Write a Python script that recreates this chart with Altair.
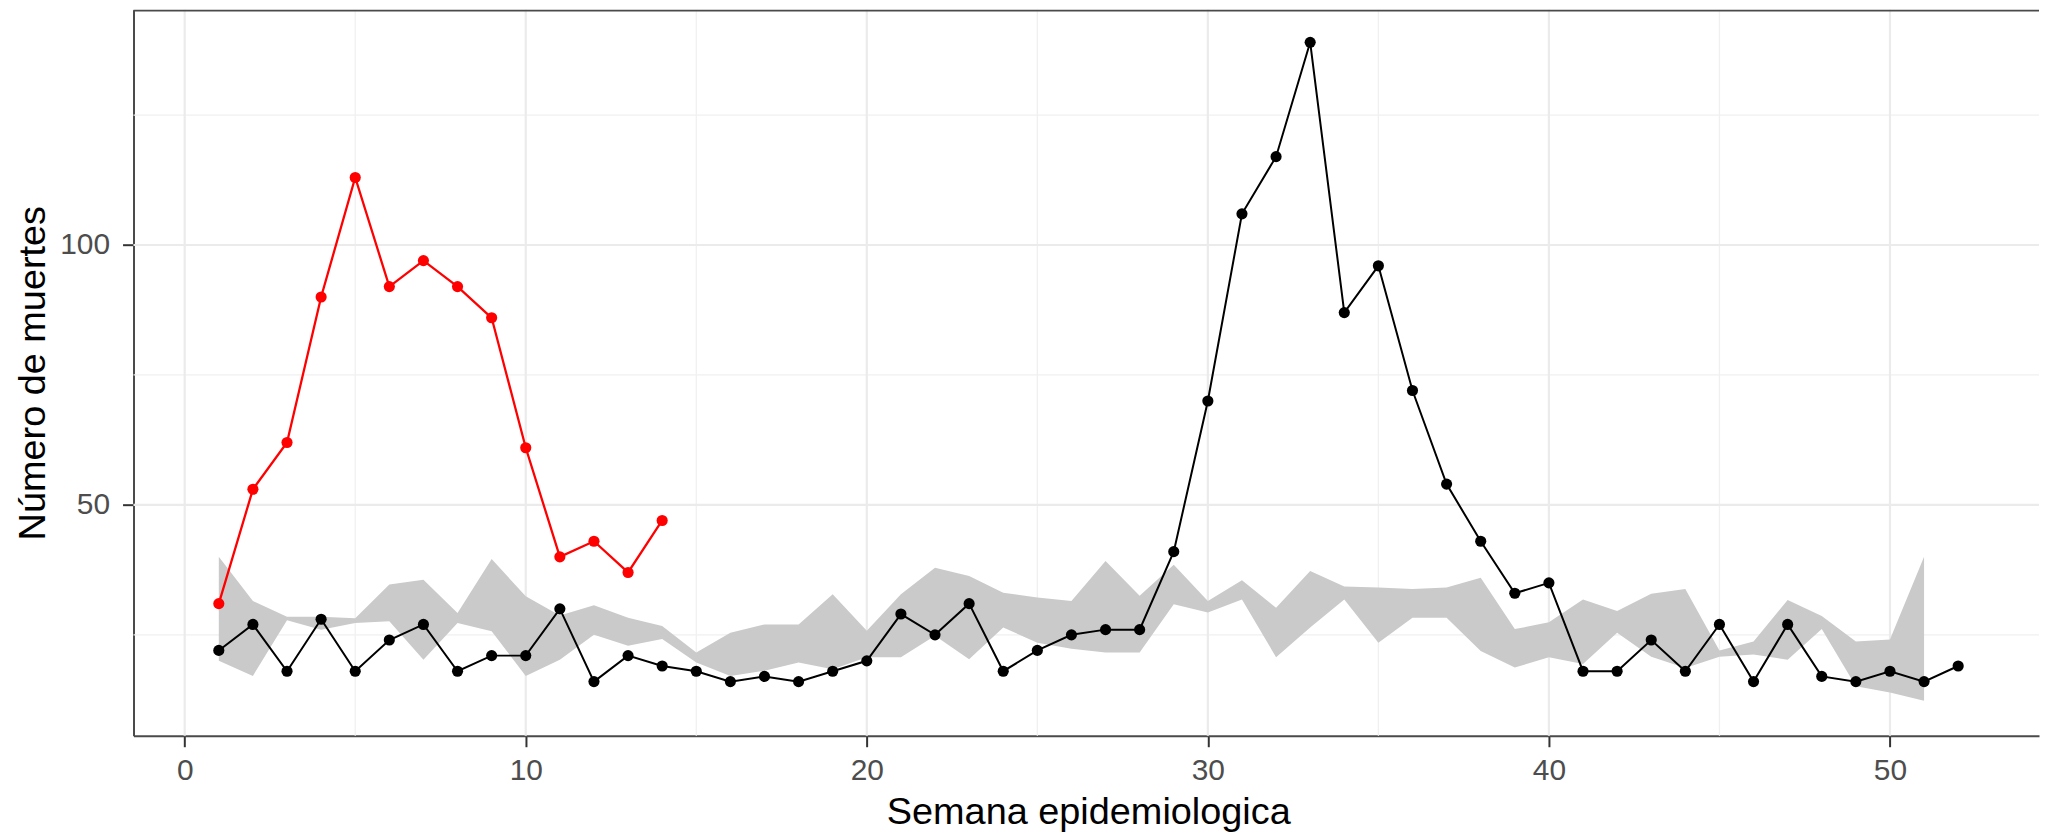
import altair as alt
import pandas as pd

# ---------------- data ----------------
weeks_prev = list(range(1, 53))
deaths_prev = [22, 27, 18, 28, 18, 24, 27, 18, 21, 21, 30, 16, 21, 19, 18, 16, 17, 16,
               18, 20, 29, 25, 31, 18, 22, 25, 26, 26, 41, 70, 106, 117, 139, 87, 96,
               72, 54, 43, 33, 35, 18, 18, 24, 18, 27, 16, 27, 17, 16, 18, 16, 19]

weeks_curr = list(range(1, 15))
deaths_curr = [31, 53, 62, 90, 113, 92, 97, 92, 86, 61, 40, 43, 37, 47]

band_weeks = list(range(1, 52))
band_low = [20.0, 17.1, 27.8, 26.0, 27.3, 27.6, 20.2, 27.3, 25.7, 17.1, 20.2, 25.0,
            22.9, 24.2, 19.7, 17.1, 18.1, 19.7, 18.4, 20.7, 20.7, 24.8, 20.3, 26.4,
            23.5, 22.3, 21.6, 21.6, 30.9, 29.3, 31.8, 20.7, 26.4, 31.8, 23.5, 28.3,
            28.3, 21.9, 18.7, 20.7, 19.4, 25.4, 20.8, 18.6, 20.8, 21.2, 20.2, 26.1,
            15.1, 13.9, 12.3]
band_high = [40.0, 31.5, 28.5, 28.5, 28.2, 34.7, 35.6, 29.2, 39.6, 32.4, 28.7, 30.7,
             28.3, 26.7, 21.6, 25.4, 27.0, 27.0, 32.8, 25.8, 32.8, 37.9, 36.3, 33.1,
             32.2, 31.5, 39.2, 32.5, 38.5, 31.5, 35.5, 30.2, 37.3, 34.3, 34.1, 33.8,
             34.1, 36.0, 26.1, 27.4, 31.8, 29.6, 32.9, 33.8, 22.0, 23.7, 31.7, 28.6,
             23.7, 24.1, 40.0]

x_ticks = [0, 10, 20, 30, 40, 50]
x_minor = [5, 15, 25, 35, 45]
y_ticks = [50, 100]
y_minor = [25, 75, 125]

x_title = "Semana epidemiologica"
y_title = "Número de muertes"

# ---------------- layout ----------------
W, H = 1913, 729
X_DOM = [-1.501, 54.37]
Y_DOM = [5.58, 145.29]
FONT = "Liberation Sans"
BORDER = "#4a4a4a"

prev = pd.DataFrame({"week": weeks_prev, "deaths": deaths_prev})
curr = pd.DataFrame({"week": weeks_curr, "deaths": deaths_curr})
band = pd.DataFrame({"week": band_weeks, "lo": band_low, "hi": band_high})

xs = alt.Scale(domain=X_DOM, nice=False, zero=False)
ys = alt.Scale(domain=Y_DOM, nice=False, zero=False)

x_axis = alt.Axis(
    values=x_ticks, grid=False, title=x_title,
    labelFont=FONT, labelFontSize=30, labelColor="#4d4d4d", labelPadding=9,
    tickSize=11, tickWidth=2, tickColor="#333333",
    domain=True, domainColor=BORDER, domainWidth=2,
    titleFont=FONT, titleFontSize=38, titleFontWeight="normal", titleColor="#000000",
    titleX=958.5, titleY=88, titleBaseline="alphabetic", titleAlign="center",
)
y_axis = alt.Axis(
    values=y_ticks, grid=False, title=y_title,
    labelFont=FONT, labelFontSize=30, labelColor="#4d4d4d", labelPadding=13,
    tickSize=11, tickWidth=2, tickColor="#333333",
    domain=True, domainColor=BORDER, domainWidth=2,
    titleFont=FONT, titleFontSize=38, titleFontWeight="normal", titleColor="#000000",
    titleX=-89, titleY=H / 2, titleBaseline="alphabetic", titleAlign="center",
    titleAngle=270,
)


def X(field):
    return alt.X(field, scale=xs, axis=x_axis, title=x_title)


def Y(field):
    return alt.Y(field, scale=ys, axis=y_axis, title=y_title)


grid_x_major = alt.Chart(pd.DataFrame({"week": x_ticks})).mark_rule(
    color="#ebebeb", strokeWidth=2.2
).encode(x=X("week:Q"))
grid_x_minor = alt.Chart(pd.DataFrame({"week": x_minor})).mark_rule(
    color="#f0f0f0", strokeWidth=1.3
).encode(x=X("week:Q"))
grid_y_major = alt.Chart(pd.DataFrame({"deaths": y_ticks})).mark_rule(
    color="#ebebeb", strokeWidth=2.2
).encode(y=Y("deaths:Q"))
grid_y_minor = alt.Chart(pd.DataFrame({"deaths": y_minor})).mark_rule(
    color="#f0f0f0", strokeWidth=1.3
).encode(y=Y("deaths:Q"))

ribbon = alt.Chart(band).mark_area(color="#cacaca", opacity=1).encode(
    x=X("week:Q"),
    y=Y("lo:Q"),
    y2="hi:Q",
)

prev_line = alt.Chart(prev).mark_line(color="#000000", strokeWidth=2).encode(
    x=X("week:Q"), y=Y("deaths:Q"),
)
prev_pts = alt.Chart(prev).mark_circle(color="#000000", size=125, opacity=1).encode(
    x=X("week:Q"), y=Y("deaths:Q"),
)
curr_line = alt.Chart(curr).mark_line(color="#ff0000", strokeWidth=2.3).encode(
    x=X("week:Q"), y=Y("deaths:Q"),
)
curr_pts = alt.Chart(curr).mark_circle(color="#ff0000", size=125, opacity=1).encode(
    x=X("week:Q"), y=Y("deaths:Q"),
)

top_border = alt.Chart(pd.DataFrame({"a": [0]})).mark_rule(
    color=BORDER, strokeWidth=2
).encode(y=alt.value(1), x=alt.value(0), x2=alt.value(W))

chart = alt.layer(
    grid_x_minor, grid_y_minor, grid_x_major, grid_y_major,
    ribbon, prev_line, prev_pts, curr_line, curr_pts, top_border,
).properties(
    width=W, height=H,
    autosize=alt.AutoSizeParams(type="none"),
    padding={"left": 126, "top": 0, "right": 1, "bottom": 101},
    background="white",
).configure_view(stroke=None)

chart.save("out.html", embed_options={"renderer": "svg", "actions": False})
